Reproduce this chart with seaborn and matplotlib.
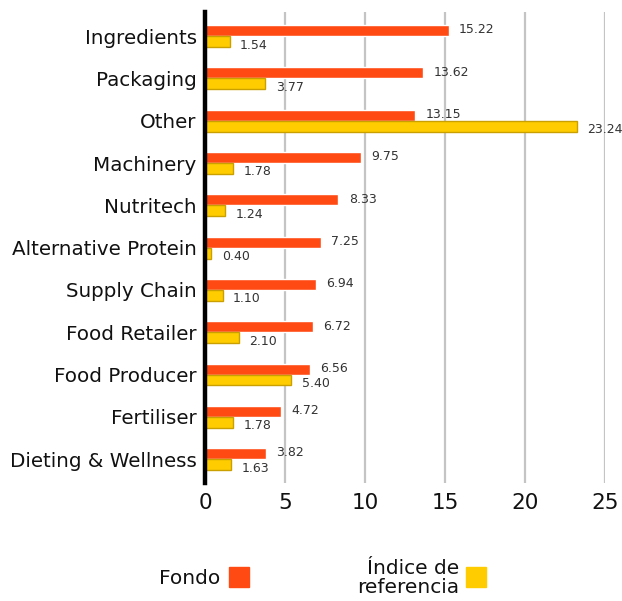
import numpy as np
import pandas as pd
import matplotlib
matplotlib.use("Agg")
import matplotlib.pyplot as plt
import seaborn as sns
from matplotlib.patches import Rectangle

# Data
sectors = ['Ingredients', 'Packaging', 'Other', 'Machinery', 'Nutritech',
           'Alternative Protein', 'Supply Chain', 'Food Retailer',
           'Food Producer', 'Fertiliser', 'Dieting & Wellness']
fondo = [15.22, 13.62, 13.15, 9.75, 8.33, 7.25, 6.94, 6.72, 6.56, 4.72, 3.82]
indice = [1.54, 3.77, 23.24, 1.78, 1.24, 0.40, 1.10, 2.10, 5.40, 1.78, 1.63]
series = ['Fondo', 'Índice de referencia']
colors = ['#FF4A14', '#FFCC00']

df = pd.DataFrame({
    'sector': sectors * 2,
    'value': fondo + indice,
    'serie': [series[0]] * len(sectors) + [series[1]] * len(sectors),
})

sns.set_style('white')
plt.rcParams['font.family'] = ['DejaVu Sans']

fig = plt.figure(figsize=(6.22, 6.01), dpi=100)
ax = fig.add_axes([0.3296, 0.196, 0.6431, 0.784])

sns.barplot(data=df, y='sector', x='value', hue='serie', order=sectors,
            hue_order=series, palette=colors, width=0.52, orient='h',
            saturation=1, legend=False, ax=ax)

# yellow bars have a darker outline
for p in ax.containers[1]:
    p.set_edgecolor('#C9A000')
    p.set_linewidth(1)

# value labels
for i, cont in enumerate(ax.containers):
    dy = 0.5 if i == 0 else -2.5
    for p in cont:
        w = p.get_width()
        yc = p.get_y() + p.get_height() / 2
        ax.annotate(f'{w:.2f}', (w, yc), xytext=(7.5, dy), textcoords='offset points',
                    ha='left', va='center', fontsize=9, color='#333333',
                    annotation_clip=False)

ax.set_xlim(0, 25)
ax.set_ylim(10.57, -0.57)
ax.set_xticks([0, 5, 10, 15, 20, 25])
ax.xaxis.grid(True, color='#C4C4C4', linewidth=1.6)
ax.set_axisbelow(True)
for s in ['top', 'right', 'bottom']:
    ax.spines[s].set_visible(False)
ax.spines['left'].set_color('black')
ax.spines['left'].set_linewidth(3.2)
ax.spines['left'].set_zorder(5)
ax.tick_params(axis='both', length=0, colors='#111111')
ax.tick_params(axis='y', pad=6, labelsize=14.3)
ax.tick_params(axis='x', pad=7, labelsize=15.5)
ax.set_xlabel('')
ax.set_ylabel('')

# legend below the chart
fig.text(220 / 622, 1 - 578 / 601, 'Fondo', ha='right', va='center',
         fontsize=14.5, color='#111111')
fig.patches.append(Rectangle((229 / 622, 1 - 587 / 601), 20 / 622, 20 / 601,
                             transform=fig.transFigure, color=colors[0]))
fig.text(459 / 622, 1 - 578 / 601, 'Índice de\nreferencia', ha='right',
         va='center', multialignment='right', fontsize=14.5, color='#111111',
         linespacing=1.05)
fig.patches.append(Rectangle((466 / 622, 1 - 587 / 601), 20 / 622, 20 / 601,
                             transform=fig.transFigure, color=colors[1]))

fig.savefig('out.png', dpi=100)
